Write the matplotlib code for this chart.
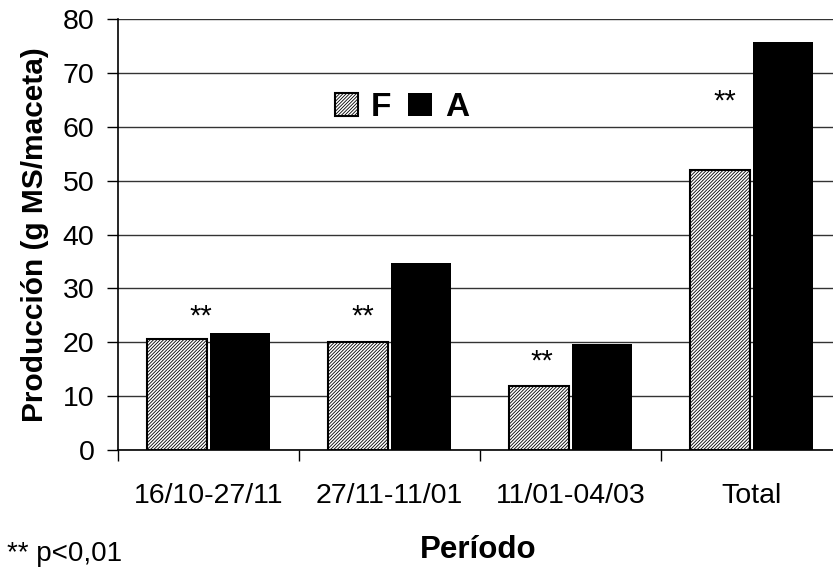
import numpy as np
import matplotlib
matplotlib.use('Agg')
import matplotlib.pyplot as plt
import matplotlib.transforms as mtransforms

# Data
periods = ['16/10-27/11', '27/11-11/01', '11/01-04/03', 'Total']
prod_F = [20.6, 20.1, 11.9, 52.0]
prod_A = [21.7, 34.8, 19.7, 75.7]

# significance marks (x offset from category centre, height of the mark)
star_dx = [-0.04, -0.15, -0.16, -0.15]
star_y = [26.4, 26.4, 18.1, 66.2]

plt.rcParams['font.family'] = ['Liberation Sans', 'DejaVu Sans']
plt.rcParams['hatch.linewidth'] = 0.6

fig = plt.figure(figsize=(8.33, 5.69), dpi=100)
ax = fig.add_axes([0.1417, 0.2091, 0.8691, 0.7575])

x = np.arange(len(periods))
w = 0.33
off = 0.175

ax.bar(x - off, prod_F, w, facecolor='white', edgecolor='black',
       hatch='//////////', linewidth=1.5, label='F', zorder=3)
ax.bar(x + off, prod_A, w, color='black', edgecolor='black',
       linewidth=0, label='A', zorder=3)

# asterisks
fs_star = 21
for i in range(len(periods)):
    tr = mtransforms.offset_copy(ax.transData, fig=fig, x=0, y=-0.57 * fs_star, units='points')
    ax.text(x[i] + star_dx[i], star_y[i], '**', fontsize=fs_star, ha='center',
            va='baseline', transform=tr, zorder=4)

ax.set_ylim(0, 80)
ax.set_xlim(-0.5, 3.5)
ax.set_yticks(np.arange(0, 81, 10))
ax.yaxis.grid(True, color='#333333', linewidth=1.0)
ax.set_axisbelow(True)

# category boundaries as major ticks, labels on minor ticks
ax.set_xticks(np.arange(-0.5, 4, 1))
ax.set_xticklabels([])
ax.set_xticks(x, minor=True)
ax.set_xticklabels(periods, minor=True, fontsize=20.5)
ax.tick_params(axis='x', which='major', direction='out', length=8, width=1)
ax.tick_params(axis='x', which='minor', length=0, pad=24)
ax.tick_params(axis='y', direction='out', length=8, width=1, labelsize=20.5, pad=9)

for s in ['top', 'right']:
    ax.spines[s].set_visible(False)
ax.spines['left'].set_linewidth(1.2)
ax.spines['bottom'].set_linewidth(1.2)

ax.set_ylabel('Producción (g MS/maceta)', fontsize=21.5, fontweight='bold', labelpad=10)
fig.text(0.574, 0.0193, 'Período', fontsize=22.5, fontweight='bold', ha='center', va='baseline')
fig.text(0.009, 0.014, '** p<0,01', fontsize=20, ha='left', va='baseline')

ax.legend(loc='center', bbox_to_anchor=(0.392, 0.795), ncol=2, frameon=False,
          prop={'weight': 'bold', 'size': 24}, handlelength=0.7, handleheight=0.7,
          handletextpad=0.4, columnspacing=0.5, borderpad=0)

fig.savefig('out.png', dpi=100)
